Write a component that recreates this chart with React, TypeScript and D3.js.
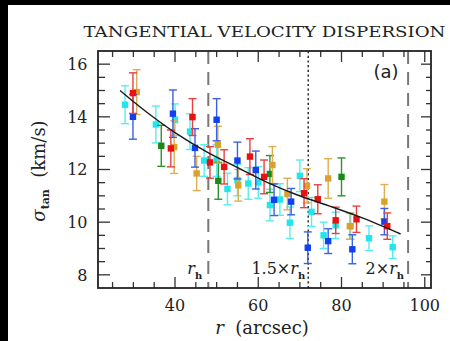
import React from 'react';
import * as d3 from 'd3';

// ---- data ----
const cyanR = [28.0, 35.4, 40.0, 43.6, 47.0, 50.0, 52.6, 55.0, 57.6, 60.0, 62.8, 65.2, 67.6, 70.0, 72.8, 75.7, 78.6, 82.2, 86.6, 92.3];
const cyanS = [14.46, 13.71, 13.89, 13.44, 12.34, 12.34, 11.26, 11.6, 11.47, 11.51, 10.65, 10.86, 9.98, 11.76, 10.39, 9.5, 9.88, 9.85, 9.39, 9.05];
const cyanE = [0.72, 0.7, 0.6, 0.68, 0.6, 0.6, 0.6, 0.6, 0.6, 0.6, 0.6, 0.6, 0.6, 0.6, 0.55, 0.5, 0.5, 0.5, 0.47, 0.43];

const blueR = [29.9, 39.5, 44.8, 50.0, 55.0, 59.4, 63.8, 67.9, 71.9, 76.8, 82.6, 90.3];
const blueS = [14.0, 14.12, 12.82, 13.89, 12.34, 11.98, 10.85, 10.78, 9.03, 9.28, 8.97, 10.02];
const blueE = [0.85, 0.9, 0.73, 0.8, 0.7, 0.72, 0.6, 0.5, 0.6, 0.47, 0.55, 0.5];

const redR = [29.9, 39.0, 44.2, 48.4, 51.8, 58.0, 61.4, 71.0, 74.3, 78.6, 83.6, 91.0];
const redS = [14.9, 12.8, 13.99, 12.27, 12.1, 12.49, 11.72, 11.1, 10.87, 10.07, 10.11, 9.85];
const redE = [0.77, 0.7, 0.7, 0.6, 0.65, 0.68, 0.64, 0.55, 0.55, 0.5, 0.5, 0.5];

const orangeR = [30.8, 39.8, 45.2, 50.3, 55.2, 63.4, 67.0, 71.7, 76.8, 82.0, 90.3];
const orangeS = [14.94, 12.85, 11.85, 12.94, 11.4, 12.17, 11.07, 11.38, 11.66, 9.85, 10.78];
const orangeE = [0.85, 1.0, 0.65, 0.7, 0.6, 0.7, 0.6, 0.65, 0.75, 0.5, 0.65];

const greenR = [36.7, 50.4, 62.8, 80.0];
const greenS = [12.9, 11.57, 11.83, 11.72];
const greenE = [0.78, 0.7, 0.7, 0.72];

const fitR = [26.8, 33.0, 40.0, 47.5, 55.2, 62.0, 69.1, 77.0, 85.0, 94.2];
const fitS = [15.0, 14.2, 13.4, 12.68, 12.06, 11.52, 11.05, 10.62, 10.16, 9.55];

const xTickLabels = [40, 60, 80, 100];
const yTickLabels = [8, 10, 12, 14, 16];
const rHalf = 48;

const title = 'TANGENTIAL VELOCITY DISPERSION';

const series = [
  { r: cyanR, s: cyanS, e: cyanE, fill: '#22e6ea', bar: '#55eef0' },
  { r: greenR, s: greenS, e: greenE, fill: '#178a17', bar: '#2f922f' },
  { r: orangeR, s: orangeS, e: orangeE, fill: '#d9a22e', bar: '#deae50' },
  { r: blueR, s: blueS, e: blueE, fill: '#1040f0', bar: '#3a60e8' },
  { r: redR, s: redS, e: redE, fill: '#e81212', bar: '#e84040' },
];

const W = 450, H = 341;
const L = 98, R = 431, T = 51, B = 288;

export default function App() {
  const x = d3.scaleLinear().domain([21.5, 101.5]).range([L, R]);
  const y = d3.scaleLinear().domain([7.5, 16.5]).range([B, T]);

  const xMinor = d3.range(25, 101, 5);
  const yMinor = d3.range(8, 16.01, 0.5);
  const serif = 'DejaVu Serif';

  const line = d3.line<number>()
    .x((_, i) => x(fitR[i]))
    .y((d) => y(d))
    .curve(d3.curveCatmullRom);

  const ticks: React.ReactNode[] = [];
  xMinor.forEach((v) => {
    const major = v % 20 === 0;
    const len = major ? 11 : 6;
    const px = x(v);
    ticks.push(<line key={'xb' + v} x1={px} x2={px} y1={B} y2={B - len} stroke="#333" strokeWidth={1.3} />);
    ticks.push(<line key={'xt' + v} x1={px} x2={px} y1={T} y2={T + len} stroke="#333" strokeWidth={1.3} />);
  });
  yMinor.forEach((v) => {
    const major = Math.abs(v % 2) < 1e-6;
    const len = major ? 12 : 7;
    const py = y(v);
    ticks.push(<line key={'yl' + v} x1={L} x2={L + len} y1={py} y2={py} stroke="#333" strokeWidth={1.3} />);
    ticks.push(<line key={'yr' + v} x1={R} x2={R - (major ? 10 : 5)} y1={py} y2={py} stroke="#333" strokeWidth={1.3} />);
  });

  return (
    <svg width={W} height={H} style={{ position: 'absolute', left: 0, top: 0, background: '#fff' }}>
      <rect x={0} y={0} width={W} height={H} fill="#fff" />
      <rect x={0} y={0} width={W} height={5} fill="#000" />
      <rect x={0} y={0} width={8} height={H} fill="#000" />

      <text x={264.5} y={37} fontFamily={serif} fontSize={15} textAnchor="middle" fill="#222"
        textLength={362} lengthAdjust="spacingAndGlyphs">{title}</text>

      {/* reference lines */}
      <line x1={x(rHalf)} x2={x(rHalf)} y1={T} y2={B} stroke="#777" strokeWidth={2} strokeDasharray="13,8" />
      <line x1={x(rHalf * 1.5)} x2={x(rHalf * 1.5)} y1={T} y2={B} stroke="#111" strokeWidth={1.3} strokeDasharray="2.2,2.5" />
      <line x1={x(rHalf * 2)} x2={x(rHalf * 2)} y1={T} y2={B} stroke="#777" strokeWidth={2} strokeDasharray="13,8" />

      {/* data */}
      {series.map((sr, si) => (
        <g key={si}>
          {sr.r.map((rv, i) => {
            const px = x(rv);
            const y1 = y(sr.s[i] + sr.e[i]);
            const y2 = y(sr.s[i] - sr.e[i]);
            return (
              <g key={i}>
                <line x1={px} x2={px} y1={y1} y2={y2} stroke={sr.bar} strokeWidth={1.4} />
                <line x1={px - 4} x2={px + 4} y1={y1} y2={y1} stroke={sr.bar} strokeWidth={1.4} />
                <line x1={px - 4} x2={px + 4} y1={y2} y2={y2} stroke={sr.bar} strokeWidth={1.4} />
              </g>
            );
          })}
          {sr.r.map((rv, i) => (
            <rect key={'m' + i} x={x(rv) - 3.2} y={y(sr.s[i]) - 3.2} width={6.4} height={6.4} fill={sr.fill} />
          ))}
        </g>
      ))}

      <path d={line(fitS) || ''} fill="none" stroke="#1a1a1a" strokeWidth={1.4} />

      {/* frame & ticks */}
      {ticks}
      <rect x={L} y={T} width={R - L} height={B - T} fill="none" stroke="#222" strokeWidth={1.8} />

      {xTickLabels.map((v) => (
        <text key={'xl' + v} x={x(v)} y={311} fontFamily={serif} fontSize={16} textAnchor="middle" fill="#222">{v}</text>
      ))}
      {yTickLabels.map((v) => (
        <text key={'yl' + v} x={87.5} y={y(v) + 5.7} fontFamily={serif} fontSize={16} textAnchor="end" fill="#222">{v}</text>
      ))}

      {/* annotations */}
      <text x={x(rHalf) - 6} y={274} fontFamily={serif} fontSize={16} textAnchor="end" fill="#222">
        <tspan fontStyle="italic">r</tspan><tspan fontSize={10} fontWeight="bold" dy={5}>h</tspan>
      </text>
      <text x={x(rHalf * 1.5) - 3} y={274} fontFamily={serif} fontSize={16} textAnchor="end" fill="#222">
        1.5×<tspan fontStyle="italic">r</tspan><tspan fontSize={10} fontWeight="bold" dy={5}>h</tspan>
      </text>
      <text x={x(rHalf * 2) - 4} y={274} fontFamily={serif} fontSize={16} textAnchor="end" fill="#222">
        2×<tspan fontStyle="italic">r</tspan><tspan fontSize={10} fontWeight="bold" dy={5}>h</tspan>
      </text>
      <text x={386} y={77.5} fontFamily="DejaVu Sans" fontSize={18} textAnchor="middle" fill="#222">(a)</text>

      {/* axis titles */}
      <text x={262} y={334} fontFamily={serif} fontSize={18} textAnchor="middle" fill="#222">
        <tspan fontStyle="italic">r</tspan>{'\u00a0\u00a0(arcsec)'}
      </text>
      <text transform="translate(45,171) rotate(-90)" fontFamily={serif} fontSize={18} textAnchor="middle" fill="#222">
        <tspan fontStyle="italic">σ</tspan><tspan fontSize={11} fontWeight="bold" dy={4}>tan</tspan><tspan dy={-4}>{'\u00a0\u00a0(km/s)'}</tspan>
      </text>
    </svg>
  );
}
